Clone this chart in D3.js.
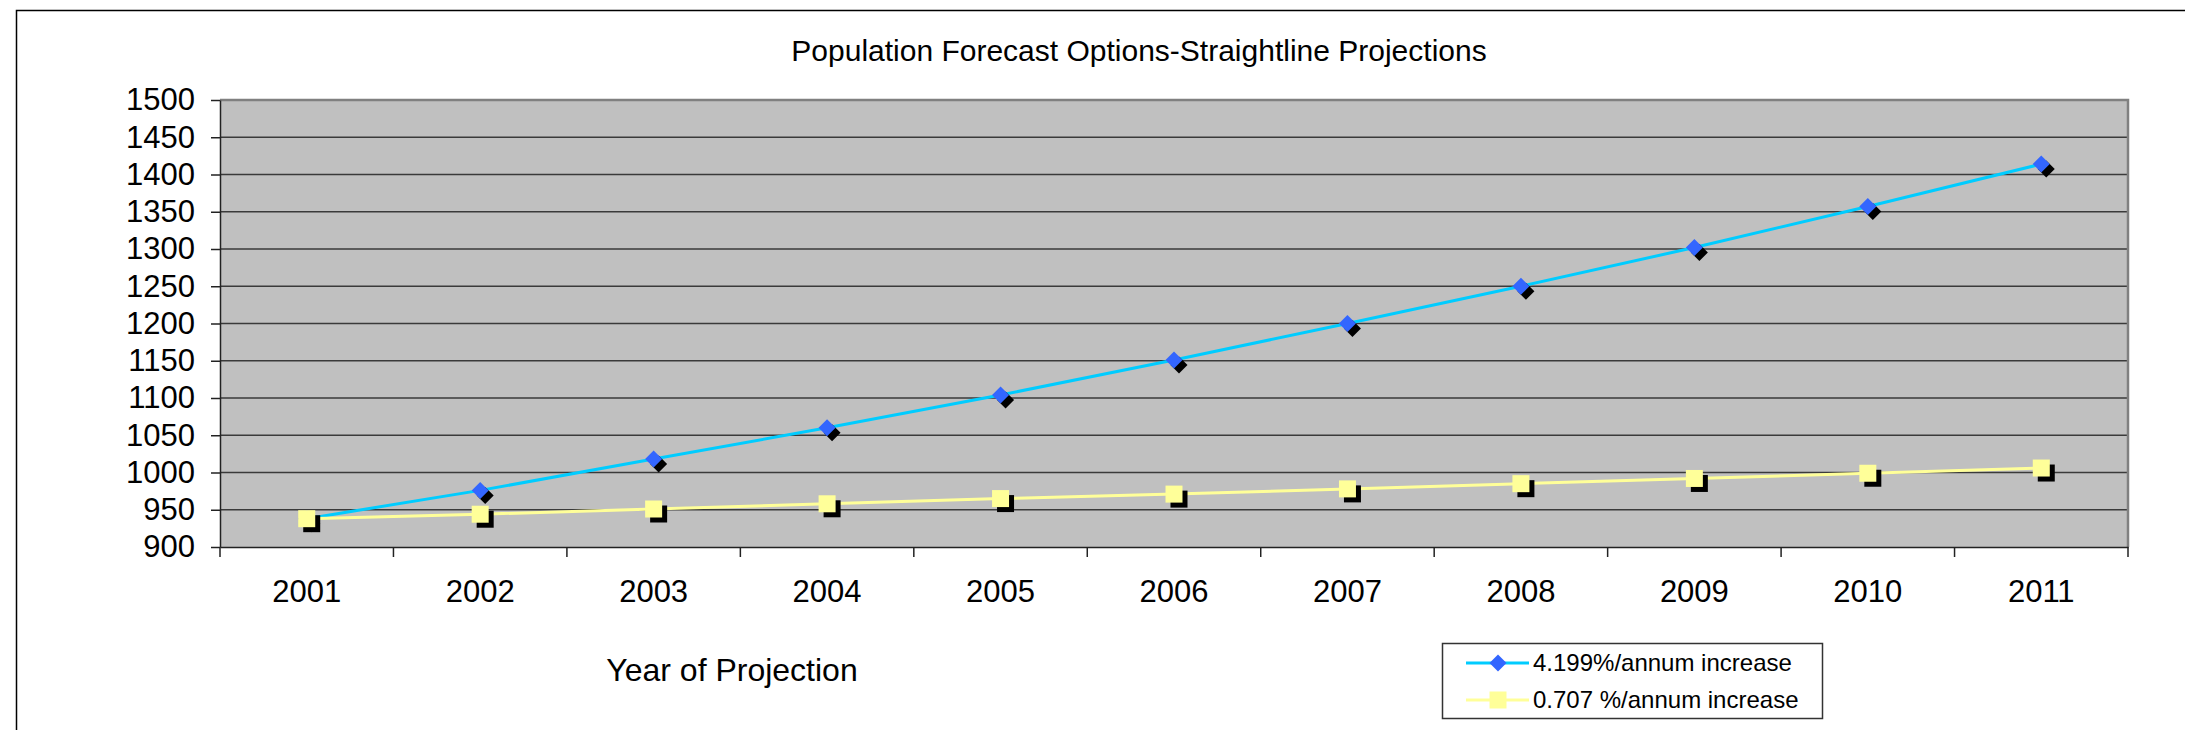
<!DOCTYPE html>
<html>
<head>
<meta charset="utf-8">
<script src="https://cdn.jsdelivr.net/npm/d3@7"></script>
<style>
  body { margin: 0; background: #fff; }
  text { font-family: "Liberation Sans", Arial, sans-serif; fill: #000; }
</style>
</head>
<body>
<script>
// values
var years = ["2001", "2002", "2003", "2004", "2005", "2006", "2007", "2008", "2009", "2010", "2011"];
var highGrowth = [938, 976, 1018, 1060, 1104, 1151, 1200, 1250, 1302, 1357, 1414];
var lowGrowth = [938, 944, 951, 958, 965, 971, 978, 985, 992, 999, 1006];
var yTicks = [900, 950, 1000, 1050, 1100, 1150, 1200, 1250, 1300, 1350, 1400, 1450, 1500];
var seriesNames = ["4.199%/annum increase", "0.707 %/annum increase"];

var W = 2185, H = 730;
var plot = {left: 220, top: 100, right: 2128, bottom: 547};

var svg = d3.select("body").append("svg")
    .attr("width", W)
    .attr("height", H);

// outer chart frame (runs off the right and bottom of the picture)
svg.append("rect")
    .attr("x", 16.5).attr("y", 10.5)
    .attr("width", W + 20).attr("height", H + 20)
    .attr("fill", "#fff")
    .attr("stroke", "#000")
    .attr("stroke-width", 1.5);

var x = d3.scaleBand().domain(years).range([plot.left, plot.right]);
var y = d3.scaleLinear().domain([900, 1500]).range([plot.bottom, plot.top]);

// plot area
svg.append("rect")
    .attr("x", plot.left).attr("y", plot.top)
    .attr("width", plot.right - plot.left)
    .attr("height", plot.bottom - plot.top)
    .attr("fill", "#c0c0c0");

// gridlines
svg.append("g")
  .selectAll("line")
  .data(yTicks.slice(1, -1))
  .enter().append("line")
    .attr("x1", plot.left).attr("x2", plot.right)
    .attr("y1", function(d) { return y(d); })
    .attr("y2", function(d) { return y(d); })
    .attr("stroke", "#3a3a3a")
    .attr("stroke-width", 1.5);

// top and right edges of plot area
svg.append("path")
    .attr("d", "M" + plot.left + "," + plot.top + "H" + plot.right + "V" + plot.bottom)
    .attr("fill", "none")
    .attr("stroke", "#808080")
    .attr("stroke-width", 2.5);

// y axis
var yAxis = svg.append("g")
    .attr("transform", "translate(" + plot.left + ",0)")
    .call(d3.axisLeft(y).tickValues(yTicks).tickFormat(d3.format("d"))
            .tickSize(9).tickSizeOuter(0).tickPadding(16));
yAxis.select(".domain").attr("stroke", "#222").attr("stroke-width", 1.5);
yAxis.selectAll(".tick line").attr("stroke", "#222").attr("stroke-width", 1.5);
yAxis.selectAll("text")
    .attr("font-size", "31px")
    .attr("font-family", "'Liberation Sans', Arial, sans-serif")
    .attr("fill", "#000");

// x axis: labels centred on categories, ticks between them
var xAxis = svg.append("g")
    .attr("transform", "translate(0," + plot.bottom + ")")
    .call(d3.axisBottom(x).tickSize(0).tickPadding(33));
xAxis.select(".domain").attr("stroke", "#222").attr("stroke-width", 1.5);
xAxis.selectAll("text")
    .attr("font-size", "31px")
    .attr("font-family", "'Liberation Sans', Arial, sans-serif")
    .attr("fill", "#000");

var edges = years.map(function(d) { return x(d); }).concat([plot.right]);
svg.append("g")
  .selectAll("line")
  .data(edges)
  .enter().append("line")
    .attr("x1", function(d) { return d; })
    .attr("x2", function(d) { return d; })
    .attr("y1", plot.bottom)
    .attr("y2", plot.bottom + 10)
    .attr("stroke", "#222")
    .attr("stroke-width", 1.5);

var cx = function(d, i) { return x(years[i]) + x.bandwidth() / 2; };

var line = d3.line()
    .x(function(d, i) { return cx(d, i); })
    .y(function(d) { return y(d); });

var diamond = function(s) { return "M0," + (-s) + "L" + s + ",0L0," + s + "L" + (-s) + ",0Z"; };
var square = function(s) { return "M" + (-s) + "," + (-s) + "H" + s + "V" + s + "H" + (-s) + "Z"; };

var series = [
  {values: highGrowth, line: "#00ccff", fill: "#3366ff", shape: diamond(8.5)},
  {values: lowGrowth, line: "#ffff99", fill: "#ffff99", shape: square(8.5)}
];

series.forEach(function(s) {
  svg.append("path")
      .datum(s.values)
      .attr("fill", "none")
      .attr("stroke", s.line)
      .attr("stroke-width", 3)
      .attr("d", line);

  var g = svg.append("g");
  g.selectAll(".shadow")
    .data(s.values)
    .enter().append("path")
      .attr("class", "shadow")
      .attr("d", s.shape)
      .attr("fill", "#000")
      .attr("transform", function(d, i) { return "translate(" + (cx(d, i) + 5) + "," + (y(d) + 5) + ")"; });
  g.selectAll(".marker")
    .data(s.values)
    .enter().append("path")
      .attr("class", "marker")
      .attr("d", s.shape)
      .attr("fill", s.fill)
      .attr("transform", function(d, i) { return "translate(" + cx(d, i) + "," + y(d) + ")"; });
});

// title and axis title
svg.append("text")
    .attr("x", 1139).attr("y", 61)
    .attr("text-anchor", "middle")
    .attr("font-size", "30px")
    .text("Population Forecast Options-Straightline Projections");

svg.append("text")
    .attr("x", 732).attr("y", 681)
    .attr("text-anchor", "middle")
    .attr("font-size", "32px")
    .text("Year of Projection");

// legend
var legend = svg.append("g").attr("transform", "translate(1442,643)");
legend.append("rect")
    .attr("x", 0.5).attr("y", 0.5)
    .attr("width", 380).attr("height", 75)
    .attr("fill", "#fff")
    .attr("stroke", "#333")
    .attr("stroke-width", 1.5);

var rows = legend.selectAll(".row")
    .data(series)
  .enter().append("g")
    .attr("class", "row")
    .attr("transform", function(d, i) { return "translate(0," + (20 + i * 37) + ")"; });
rows.append("line")
    .attr("x1", 24).attr("x2", 87)
    .attr("stroke", function(d) { return d.line; })
    .attr("stroke-width", 3);
rows.append("path")
    .attr("d", function(d) { return d.shape; })
    .attr("fill", function(d) { return d.fill; })
    .attr("transform", "translate(56,0)");
rows.append("text")
    .attr("x", 91).attr("y", 0).attr("dy", "0.35em")
    .attr("font-size", "24px")
    .text(function(d, i) { return seriesNames[i]; });
</script>
</body>
</html>
